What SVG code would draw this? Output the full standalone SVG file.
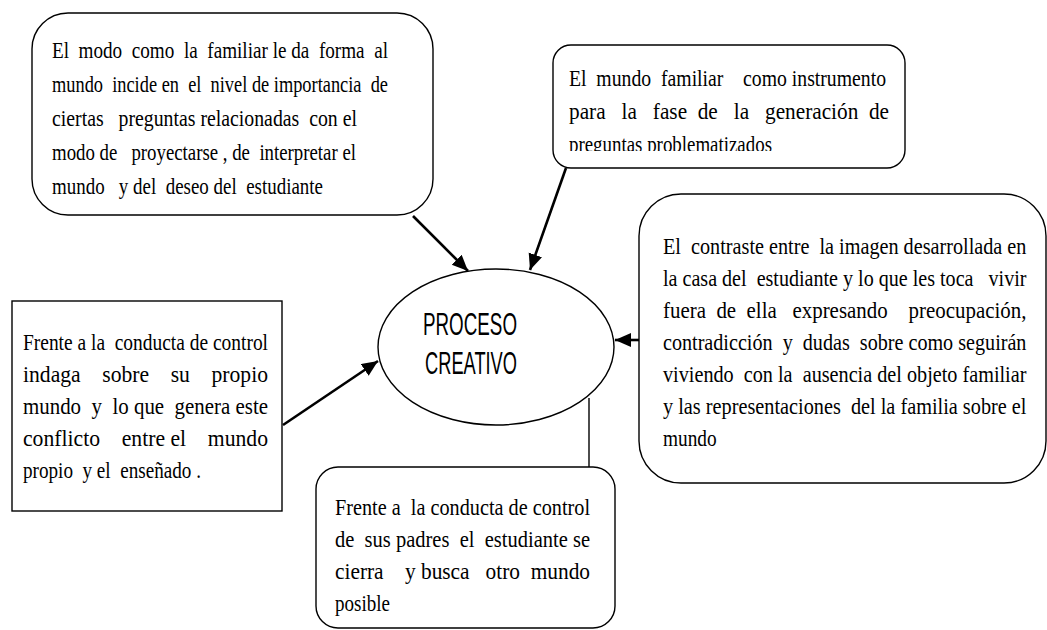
<svg xmlns="http://www.w3.org/2000/svg" width="1047" height="630" viewBox="0 0 1047 630">
<style>
.box{fill:#fff;stroke:#000;stroke-width:1.4}
.t{font-family:"Liberation Serif","Times New Roman",serif;font-size:24px;fill:#000}
.t3{font-family:"Liberation Serif","Times New Roman",serif;font-size:23.5px;fill:#000}
.c{font-family:"Liberation Sans",Arial,sans-serif;font-size:32px;fill:#000}
.arr{stroke:#000;stroke-width:2.6;fill:none}
</style>
<defs>
<marker id="ah" markerUnits="userSpaceOnUse" markerWidth="18" markerHeight="16" refX="16" refY="7" orient="auto">
<path d="M0,0 L16,7 L0,14 Z" fill="#000"/>
</marker>
<clipPath id="clip2"><rect x="553" y="45" width="352" height="106"/></clipPath>
</defs>
<rect width="1047" height="630" fill="#fff"/>

<g id="connectors">
<line class="arr" x1="413" y1="216" x2="468" y2="271" marker-end="url(#ah)"/>
<line class="arr" x1="566" y1="168" x2="530" y2="270" stroke-width="2" marker-end="url(#ah)"/>
<line class="arr" x1="639" y1="340" x2="615" y2="340" marker-end="url(#ah)"/>
<line class="arr" x1="283" y1="425" x2="378" y2="361" marker-end="url(#ah)"/>
<line x1="589" y1="398" x2="589" y2="467" stroke="#000" stroke-width="1.4"/>
</g>

<g id="node-familiar-forma">
<rect class="box" x="32" y="13" width="401" height="202" rx="36"/>
<text class="t" x="52" y="58" textLength="336" lengthAdjust="spacingAndGlyphs">El&#160; modo&#160; como&#160; la&#160; familiar le da&#160; forma&#160; al</text>
<text class="t" x="52" y="92" textLength="336" lengthAdjust="spacingAndGlyphs">mundo&#160; incide en&#160; el&#160; nivel de importancia&#160; de</text>
<text class="t" x="52" y="126" textLength="305" lengthAdjust="spacingAndGlyphs">ciertas&#160;&#160; preguntas relacionadas&#160; con el</text>
<text class="t" x="52" y="160" textLength="304" lengthAdjust="spacingAndGlyphs">modo de&#160;&#160; proyectarse , de&#160; interpretar el</text>
<text class="t" x="52" y="194" textLength="271" lengthAdjust="spacingAndGlyphs">mundo&#160;&#160; y del&#160; deseo del&#160; estudiante</text>
</g>

<g id="node-mundo-instrumento">
<rect class="box" x="553" y="45" width="352" height="123" rx="18"/>
<g clip-path="url(#clip2)">
<text class="t" x="569" y="86" textLength="317" lengthAdjust="spacingAndGlyphs">El&#160; mundo&#160; familiar&#160;&#160;&#160; como instrumento</text>
<text class="t" x="569" y="119" textLength="320" lengthAdjust="spacingAndGlyphs">para&#160;&#160; la&#160;&#160; fase&#160; de&#160;&#160; la&#160;&#160; generación&#160; de</text>
<text class="t" x="569" y="152" textLength="203" lengthAdjust="spacingAndGlyphs">preguntas problematizados</text>
</g>
</g>

<g id="node-contraste">
<rect class="box" x="639" y="194" width="407" height="289" rx="42"/>
<g transform="matrix(0.88 0 0 1 663 0)">
<text class="t3" x="0" y="254" textLength="413" lengthAdjust="spacingAndGlyphs">El&#160; contraste entre&#160; la imagen desarrollada en</text>
<text class="t3" x="0" y="286" textLength="413" lengthAdjust="spacingAndGlyphs">la casa del&#160; estudiante y lo que les toca&#160;&#160; vivir</text>
<text class="t3" x="0" y="318" textLength="413" lengthAdjust="spacingAndGlyphs">fuera&#160; de&#160; ella&#160;&#160; expresando&#160;&#160;&#160; preocupación,</text>
<text class="t3" x="0" y="350" textLength="413" lengthAdjust="spacingAndGlyphs">contradicción&#160; y&#160; dudas&#160; sobre como seguirán</text>
<text class="t3" x="0" y="382" textLength="413" lengthAdjust="spacingAndGlyphs">viviendo&#160; con la&#160; ausencia del objeto familiar</text>
<text class="t3" x="0" y="414" textLength="413" lengthAdjust="spacingAndGlyphs">y las representaciones&#160; del la familia sobre el</text>
<text class="t3" x="0" y="446" textLength="61" lengthAdjust="spacingAndGlyphs">mundo</text>
</g>
</g>

<g id="node-indaga">
<rect class="box" x="12" y="301" width="270" height="210"/>
<text class="t" x="23" y="350" textLength="245" lengthAdjust="spacingAndGlyphs">Frente a la&#160; conducta de control</text>
<text class="t" x="23" y="382" textLength="245" lengthAdjust="spacingAndGlyphs">indaga&#160;&#160;&#160; sobre&#160;&#160;&#160; su&#160;&#160;&#160; propio</text>
<text class="t" x="23" y="414" textLength="245" lengthAdjust="spacingAndGlyphs">mundo&#160; y&#160; lo que&#160; genera este</text>
<text class="t" x="23" y="446" textLength="245" lengthAdjust="spacingAndGlyphs">conflicto&#160;&#160;&#160; entre el&#160;&#160;&#160; mundo</text>
<text class="t" x="23" y="478" textLength="178" lengthAdjust="spacingAndGlyphs">propio&#160; y el&#160; enseñado .</text>
</g>

<g id="node-proceso">
<ellipse cx="496" cy="347" rx="118" ry="78" fill="#fff" stroke="#000" stroke-width="1.4"/>
<text class="c" x="423" y="335" textLength="94" lengthAdjust="spacingAndGlyphs">PROCESO</text>
<text class="c" x="425" y="374" textLength="92" lengthAdjust="spacingAndGlyphs">CREATIVO</text>
</g>

<g id="node-cierra">
<rect class="box" x="316" y="467" width="299" height="161" rx="22"/>
<text class="t" x="335" y="515" textLength="255" lengthAdjust="spacingAndGlyphs">Frente a&#160; la conducta de control</text>
<text class="t" x="335" y="547" textLength="255" lengthAdjust="spacingAndGlyphs">de&#160; sus padres&#160; el&#160; estudiante se</text>
<text class="t" x="335" y="579" textLength="255" lengthAdjust="spacingAndGlyphs">cierra&#160;&#160;&#160; y busca&#160;&#160; otro&#160; mundo</text>
<text class="t" x="335" y="611" textLength="55" lengthAdjust="spacingAndGlyphs">posible</text>
</g>
</svg>
